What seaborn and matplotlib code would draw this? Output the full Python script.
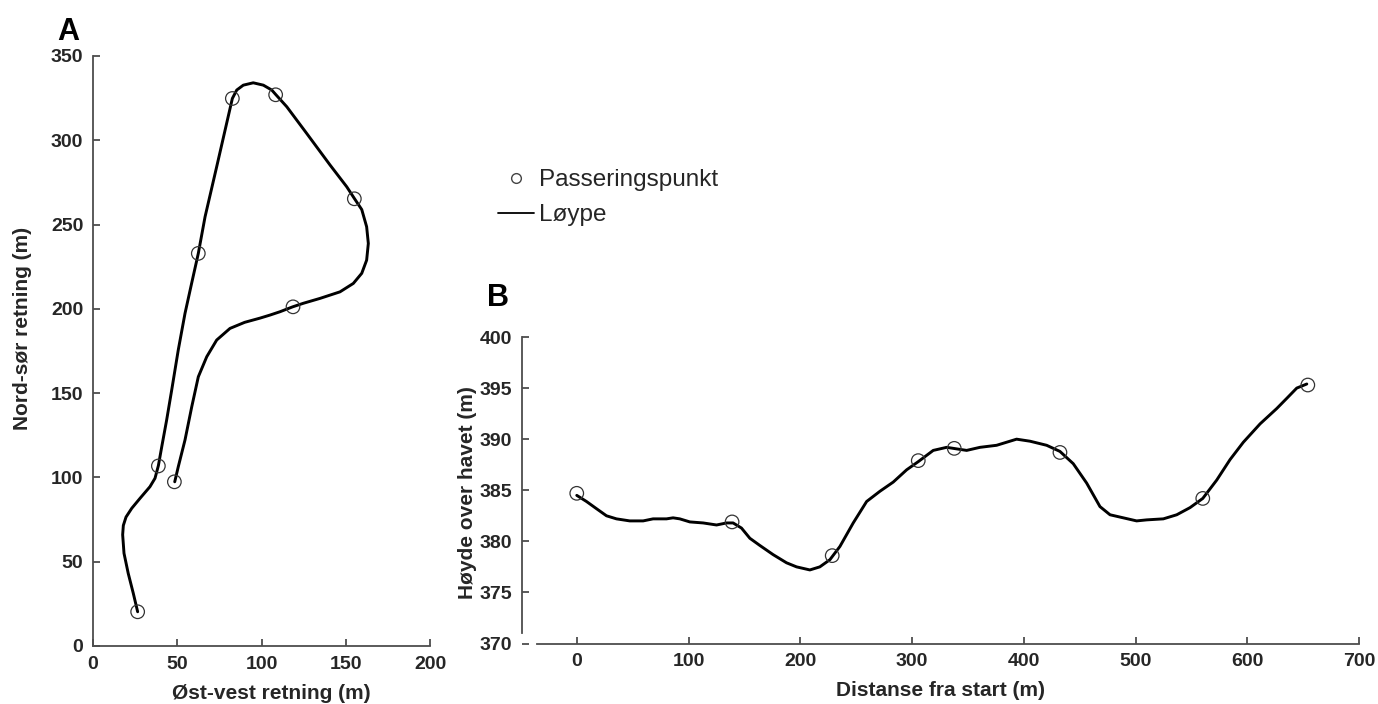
import numpy as np
import pandas as pd
import matplotlib
matplotlib.use("Agg")
import matplotlib.pyplot as plt
import seaborn as sns
from matplotlib.lines import Line2D

sns.set_theme(style="ticks")
plt.rcParams['font.family'] = ['Liberation Sans', 'DejaVu Sans']

# ---------------- Data ----------------
# Panel A: passing points (east-west, north-south)
pts_a_x = [26.5, 38.8, 62.5, 82.7, 108.4, 155.1, 118.7, 48.3]
pts_a_y = [20.3, 106.8, 232.9, 324.8, 327.0, 265.3, 201.2, 97.4]

# Panel A: route trace
route_a_x = [26.5, 23.9, 20.9, 18.4, 17.6, 18.0, 19.6, 23.0, 27.9, 33.8, 36.8, 38.8,
             40.8, 43.7, 46.7, 50.6, 54.6, 58.5, 62.5, 66.5, 73.4, 79.3, 82.7, 85.3,
             89.2, 95.1, 101.1, 106.1, 108.4, 115.0, 126.8, 140.7, 150.6, 155.1,
             159.5, 162.4, 163.4, 162.4, 159.5, 154.5, 146.6, 134.7, 124.8, 118.5,
             111.0, 105.0, 99.1, 90.0, 81.3, 73.4, 67.5, 62.5, 58.6, 54.6, 50.6,
             48.5]
route_a_y = [20.3, 31.3, 43.1, 55.0, 66.0, 71.5, 76.5, 81.7, 87.6, 94.5, 99.5, 107.0,
             118.2, 134.0, 151.8, 175.6, 197.3, 215.0, 232.9, 254.6, 284.3, 310.0,
             324.8, 329.8, 332.7, 334.1, 332.7, 329.8, 327.2, 319.9, 304.1, 285.3,
             272.4, 265.5, 258.9, 248.7, 238.8, 228.9, 221.1, 215.1, 210.1, 206.2,
             203.3, 201.2, 198.3, 196.3, 194.5, 192.0, 188.4, 181.5, 171.6, 159.7,
             141.9, 122.2, 106.3, 97.4]

# Panel B: passing points (distance, altitude)
pts_b_x = [0, 139, 228.6, 305.6, 337.8, 432.4, 560.2, 654.2]
pts_b_y = [384.7, 381.9, 378.6, 387.9, 389.1, 388.7, 384.2, 395.3]

# Panel B: elevation profile
route_b_x = [0, 8.7, 17.6, 26.6, 35.5, 47.4, 59.4, 68.3, 80.3, 86.2, 92.2, 101.2,
             113.1, 125.1, 134.0, 139.9, 147.4, 154.9, 163.8, 175.7, 187.7, 196.7,
             208.6, 217.5, 226.5, 235.5, 247.4, 259.4, 271.3, 283.2, 295.2, 305.6,
             319.0, 331.0, 348.9, 360.8, 375.7, 393.6, 405.6, 420.5, 432.4, 444.3,
             456.3, 468.2, 477.2, 489.1, 501.0, 510.0, 524.9, 536.9, 548.8, 560.2,
             572.7, 584.6, 596.5, 611.5, 626.4, 635.4, 644.3, 653.3]
route_b_y = [384.5, 383.9, 383.2, 382.5, 382.2, 382.0, 382.0, 382.2, 382.2, 382.3,
             382.2, 381.9, 381.8, 381.6, 381.8, 381.8, 381.3, 380.3, 379.6, 378.7,
             377.9, 377.5, 377.2, 377.5, 378.2, 379.5, 381.8, 383.9, 384.9, 385.8,
             387.0, 387.8, 388.9, 389.2, 388.9, 389.2, 389.4, 390.0, 389.8, 389.4,
             388.8, 387.6, 385.7, 383.4, 382.6, 382.3, 382.0, 382.1, 382.2, 382.6,
             383.3, 384.2, 386.0, 388.0, 389.7, 391.5, 393.0, 394.0, 395.0, 395.4]

xticks_a = [0, 50, 100, 150, 200]
yticks_a = [0, 50, 100, 150, 200, 250, 300, 350]
xticks_b = [0, 100, 200, 300, 400, 500, 600, 700]
yticks_b = [370, 375, 380, 385, 390, 395, 400]

legend_labels = ["Passeringspunkt", "Løype"]

# ---------------- Figure ----------------
W, H = 1378, 704
fig = plt.figure(figsize=(W / 100, H / 100), dpi=100)

spine_c = '#4d4d4d'
text_c = '#262626'
tick_fs = 14
label_fs = 15

def px_axes(l, t, r, b):
    return fig.add_axes([l / W, 1 - b / H, (r - l) / W, (b - t) / H])

axA = px_axes(93, 56, 430, 646)
axB = px_axes(522, 337, 1359, 643.5)

route_a = pd.DataFrame({'x': route_a_x, 'y': route_a_y})
sns.lineplot(data=route_a, x='x', y='y', sort=False, estimator=None,
             color='black', linewidth=2.1, ax=axA)
sns.scatterplot(x=pts_a_x, y=pts_a_y, marker='o', s=95, facecolor='none',
                edgecolor='#333333', linewidth=0.9, ax=axA, zorder=3)

route_b = pd.DataFrame({'x': route_b_x, 'y': route_b_y})
sns.lineplot(data=route_b, x='x', y='y', sort=False, estimator=None,
             color='black', linewidth=2.1, ax=axB)
sns.scatterplot(x=pts_b_x, y=pts_b_y, marker='o', s=95, facecolor='none',
                edgecolor='#333333', linewidth=0.9, ax=axB, zorder=3)

for ax in (axA, axB):
    for s in ('top', 'right'):
        ax.spines[s].set_visible(False)
    for s in ('left', 'bottom'):
        ax.spines[s].set_color(spine_c)
        ax.spines[s].set_linewidth(1.3)
    ax.tick_params(direction='in', length=5, width=1.3, color=spine_c,
                   labelsize=tick_fs, labelcolor=text_c, pad=7)

axA.set_xlim(0, 200)
axA.set_ylim(0, 350)
axA.set_xticks(xticks_a)
axA.set_yticks(yticks_a)
axA.set_xticklabels([str(v) for v in xticks_a], fontweight='bold')
axA.set_yticklabels([str(v) for v in yticks_a], fontweight='bold')
axA.set_xlabel('Øst-vest retning (m)', fontsize=label_fs, fontweight='bold', color=text_c)
axA.set_ylabel('Nord-sør retning (m)', fontsize=label_fs, fontweight='bold', color=text_c)
axA.xaxis.set_label_coords(0.528, -0.08)
axA.yaxis.set_label_coords(-0.21, 0.539)

axB.set_xlim(-49, 700)
axB.set_ylim(370, 400)
axB.set_xticks(xticks_b)
axB.set_yticks(yticks_b)
axB.set_xticklabels([str(v) for v in xticks_b], fontweight='bold')
axB.set_yticklabels([str(v) for v in yticks_b], fontweight='bold')
axB.spines['bottom'].set_bounds(-36, 700)
axB.spines['left'].set_bounds(371.0, 400)
axB.set_xlabel('Distanse fra start (m)', fontsize=label_fs, fontweight='bold', color=text_c)
axB.set_ylabel('Høyde over havet (m)', fontsize=label_fs, fontweight='bold', color=text_c)
axB.xaxis.set_label_coords(0.5, -0.152)
axB.yaxis.set_label_coords(-0.0657, 0.494)
for lab in (axA.xaxis.label, axA.yaxis.label, axB.xaxis.label, axB.yaxis.label):
    lab.set_verticalalignment('center')

fig.text(57 / W, 1 - 40 / H, 'A', fontsize=22, fontweight='bold', color='black', va='baseline')
fig.text(487 / W, 1 - 306 / H, 'B', fontsize=22, fontweight='bold', color='black', va='baseline')

handles = [Line2D([], [], linestyle='none', marker='o', markersize=7,
                  markerfacecolor='none', markeredgecolor='#444444', markeredgewidth=1.0),
           Line2D([], [], color='black', linewidth=1.3)]
fig.legend(handles, legend_labels, loc='upper left',
           bbox_to_anchor=(498 / W, 1 - 169 / H), frameon=False,
           fontsize=17.5, handlelength=1.5, handletextpad=0.2,
           labelspacing=0.55, borderpad=0, borderaxespad=0, labelcolor=text_c)

fig.savefig('out.png', dpi=100)
